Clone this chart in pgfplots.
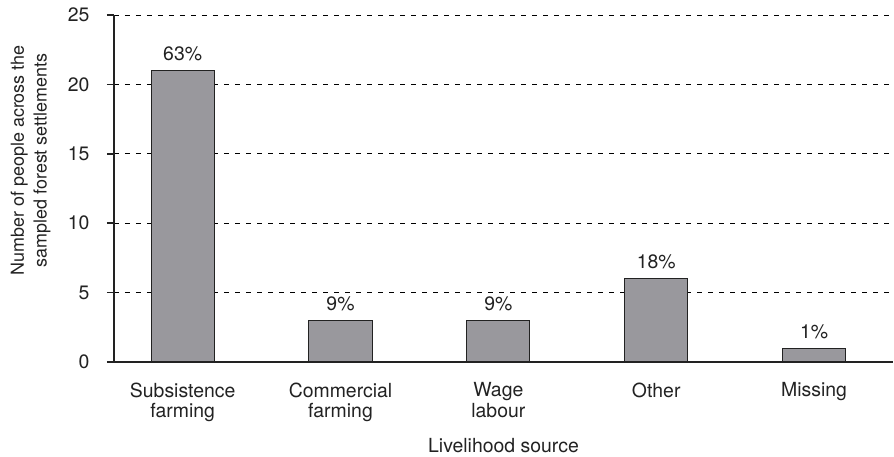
\documentclass[border=0pt]{standalone}
\usepackage{pgfplots}
\pgfplotsset{compat=1.18}
\usepackage{pgfplotstable}
\usepackage{fontspec}
\setmainfont{TeX Gyre Heros}

\definecolor{barfill}{HTML}{99989D}
\definecolor{ink}{HTML}{222222}

\pgfplotstableread{
x  n   share
0  21  63\%
1  3   9\%
2  3   9\%
3  6   18\%
4  1   1\%
}\livelihood

\begin{document}
\begin{tikzpicture}[font=\fontsize{19}{20}\selectfont]
\begin{axis}[
  scale only axis,
  width=779bp, height=347bp,
  xmin=-0.435, xmax=4.5,
  ymin=0, ymax=25,
  ytick={0,5,...,25},
  xtick={0,1,2,3,4},
  xticklabels={{Subsistence\\farming},{Commercial\\farming},{Wage\\labour},{Other},{Missing}},
  tick label style={font=\fontsize{19.5}{20.5}\selectfont},
  xticklabel style={align=center, text=ink, yshift=-10bp},
  yticklabel style={text=ink, xshift=-14bp},
  major x tick style={draw=none},
  extra x ticks={-0.435,0.5,1.5,2.5,3.5,4.5},
  extra x tick labels={},
  extra x tick style={tick style={draw=ink, line width=1.6pt}, major tick length=7bp,
    tick align=outside, grid=none},
  axis x line*=bottom,
  axis y line*=left,
  axis line style={draw=ink, line width=1.6pt, -},
  tick align=outside,
  major tick length=7bp,
  ytick style={draw=ink, line width=1.6pt},
  ymajorgrids,
  major grid style={draw=black, line width=0.75pt, dash pattern=on 5bp off 6bp},
  /pgf/number format/assume math mode=true,
  xlabel={Livelihood source},
  xlabel style={text=ink, font=\fontsize{19.5}{21}\selectfont,
    at={(axis description cs:0.5,0)}, anchor=base, yshift=-90bp},
  ylabel={Number of people across the\\sampled forest settlements},
  ylabel style={align=center, text=ink, font=\fontsize{18}{23}\selectfont,
    at={(axis description cs:-0.1070,0.581)}, anchor=center},
  clip=false,
]
\addplot[ybar, bar width=0.4, fill=barfill, draw=ink, line width=1.1pt,
  point meta=explicit symbolic,
  nodes near coords={\pgfplotspointmeta},
  nodes near coords style={text=ink, anchor=base, yshift=10bp, font=\fontsize{19.5}{20}\selectfont},
] table[x=x, y=n, meta=share] {\livelihood};
\end{axis}
\pgfresetboundingbox
\path[use as bounding box] (current axis.south west) ++(-114bp,-95bp) rectangle ++(894bp,457bp);
\end{tikzpicture}
\end{document}
